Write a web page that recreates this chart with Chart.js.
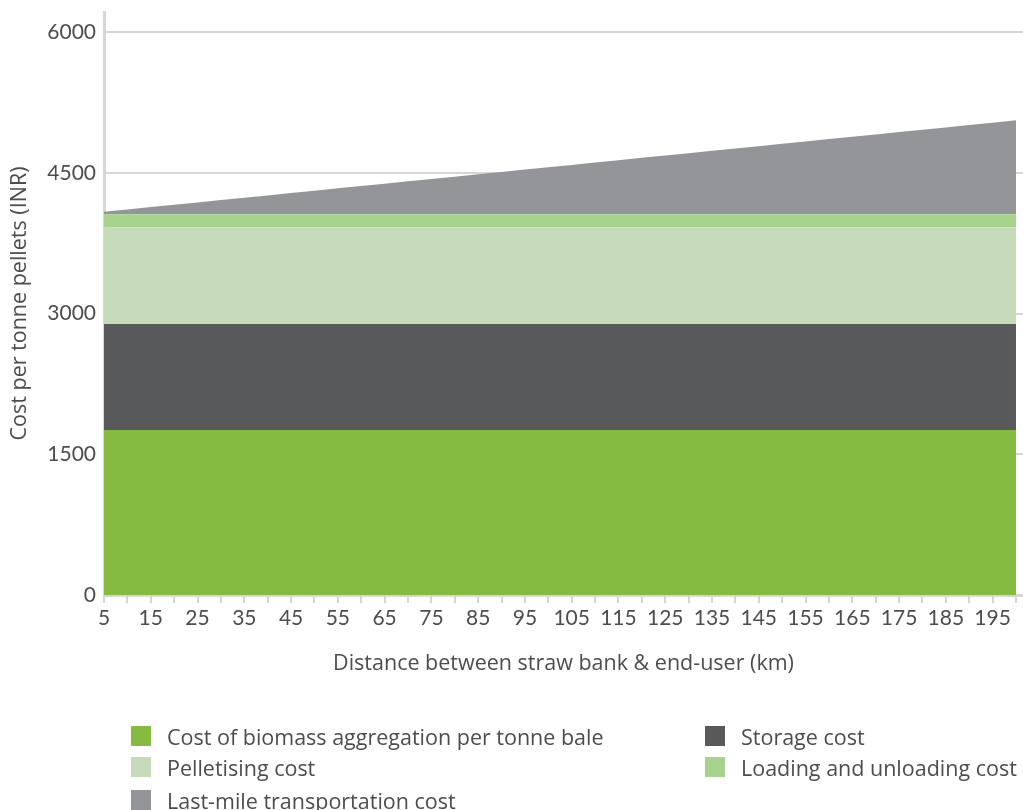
<!DOCTYPE html>
<html>
<head>
<meta charset="utf-8">
<script src="https://cdn.jsdelivr.net/npm/chart.js@4"></script>
<style>
  html, body { margin: 0; padding: 0; background: #ffffff; }
  body { width: 1023px; height: 810px; position: relative; overflow: hidden; font-family: "Open Sans", Lato, sans-serif; }
  #wrap { position: absolute; left: 0; top: 0; width: 1023px; height: 700px; }
  #legend { position: absolute; left: 0; top: 0; width: 1023px; height: 810px; pointer-events: none; }
  .item { position: absolute; display: flex; align-items: center; height: 26px; color: #4d4d4f; font-size: 21.5px; white-space: nowrap; }
  .box { width: 20px; height: 20px; margin-right: 16px; }
</style>
</head>
<body>
<div id="wrap"><canvas id="chart"></canvas></div>
<div id="legend"></div>
<script>
// Distance between straw bank and end-user (km)
const distances = [5, 10, 15, 20, 25, 30, 35, 40, 45, 50, 55, 60, 65, 70, 75, 80, 85, 90, 95, 100,
  105, 110, 115, 120, 125, 130, 135, 140, 145, 150, 155, 160, 165, 170, 175, 180, 185, 190, 195, 200];

// Cost components per tonne of pellets (INR)
const aggregationCost = [1760, 1760, 1760, 1760, 1760, 1760, 1760, 1760, 1760, 1760, 1760, 1760, 1760, 1760, 1760, 1760, 1760, 1760, 1760, 1760,
  1760, 1760, 1760, 1760, 1760, 1760, 1760, 1760, 1760, 1760, 1760, 1760, 1760, 1760, 1760, 1760, 1760, 1760, 1760, 1760];
const storageCost = [1130, 1130, 1130, 1130, 1130, 1130, 1130, 1130, 1130, 1130, 1130, 1130, 1130, 1130, 1130, 1130, 1130, 1130, 1130, 1130,
  1130, 1130, 1130, 1130, 1130, 1130, 1130, 1130, 1130, 1130, 1130, 1130, 1130, 1130, 1130, 1130, 1130, 1130, 1130, 1130];
const pelletisingCost = [1030, 1030, 1030, 1030, 1030, 1030, 1030, 1030, 1030, 1030, 1030, 1030, 1030, 1030, 1030, 1030, 1030, 1030, 1030, 1030,
  1030, 1030, 1030, 1030, 1030, 1030, 1030, 1030, 1030, 1030, 1030, 1030, 1030, 1030, 1030, 1030, 1030, 1030, 1030, 1030];
const loadingCost = [140, 140, 140, 140, 140, 140, 140, 140, 140, 140, 140, 140, 140, 140, 140, 140, 140, 140, 140, 140,
  140, 140, 140, 140, 140, 140, 140, 140, 140, 140, 140, 140, 140, 140, 140, 140, 140, 140, 140, 140];
const lastMileCost = [25, 50, 75, 100, 125, 150, 175, 200, 225, 250, 275, 300, 325, 350, 375, 400, 425, 450, 475, 500,
  525, 550, 575, 600, 625, 650, 675, 700, 725, 750, 775, 800, 825, 850, 875, 900, 925, 950, 975, 1000];

// Y-axis tick labels
const yTicks = [0, 1500, 3000, 4500, 6000];

const seriesNames = [
  'Cost of biomass aggregation per tonne bale',
  'Storage cost',
  'Pelletising cost',
  'Loading and unloading cost',
  'Last-mile transportation cost'
];
const seriesValues = [aggregationCost, storageCost, pelletisingCost, loadingCost, lastMileCost];
const seriesColors = ['#85bb40', '#58595b', '#c5dbba', '#a8d38f', '#939598'];

const textColor = '#4d4d4f';
const lineColor = '#d6d6d6';
const tickFont = 'Lato, "Open Sans", sans-serif';
const titleFont = '"Open Sans", Lato, sans-serif';

const datasets = seriesValues.map((vals, i) => ({
  label: seriesNames[i],
  data: vals.map((v, j) => ({ x: distances[j], y: v })),
  backgroundColor: seriesColors[i],
  borderColor: seriesColors[i],
  borderWidth: 0,
  pointRadius: 0,
  pointHoverRadius: 0,
  tension: 0,
  fill: i === 0 ? 'origin' : '-1'
}));

new Chart(document.getElementById('chart'), {
  type: 'line',
  data: { datasets },
  options: {
    responsive: true,
    maintainAspectRatio: false,
    devicePixelRatio: 1,
    animation: false,
    layout: { padding: { top: 12, right: 0, bottom: 0, left: 0 } },
    plugins: { legend: { display: false }, tooltip: { enabled: false } },
    scales: {
      x: {
        type: 'linear',
        min: 5,
        max: 201.5,
        afterBuildTicks: (axis) => { axis.ticks = distances.map(v => ({ value: v })); },
        afterFit: (axis) => { axis.height = 105; },
        grid: { drawOnChartArea: false, drawTicks: true, tickLength: 8, color: lineColor, lineWidth: 2 },
        border: { display: true, color: lineColor, width: 3 },
        ticks: {
          autoSkip: false,
          maxRotation: 0,
          padding: 3,
          color: textColor,
          font: { family: tickFont, size: 21 },
          callback: (v) => ((v - 5) % 10 === 0 ? String(v) : '')
        },
        title: {
          display: true,
          text: 'Distance between straw bank & end-user (km)',
          color: textColor,
          font: { family: titleFont, size: 21.5 },
          padding: { top: 0, bottom: 23 }
        }
      },
      y: {
        stacked: true,
        min: 0,
        max: 6215,
        afterBuildTicks: (axis) => { axis.ticks = yTicks.map(v => ({ value: v })); },
        afterFit: (axis) => { axis.width = 104; axis.paddingTop = 0; axis.paddingBottom = 0; },
        grid: { drawTicks: false, color: lineColor, lineWidth: 2 },
        border: { display: true, color: lineColor, width: 3 },
        ticks: {
          padding: 8,
          color: textColor,
          font: { family: tickFont, size: 21 },
          callback: (v) => String(v)
        },
        title: {
          display: true,
          text: 'Cost per tonne pellets (INR)',
          color: textColor,
          font: { family: titleFont, size: 21.5 },
          padding: { top: 7, bottom: 0 }
        }
      }
    }
  }
});

// Two-column legend under the chart
const legend = document.getElementById('legend');
const colLeft = [131, 705];
const rowCenter = [736, 767, 800];
seriesNames.forEach((name, i) => {
  const item = document.createElement('div');
  item.className = 'item';
  item.style.left = colLeft[i % 2] + 'px';
  item.style.top = (rowCenter[Math.floor(i / 2)] - 13) + 'px';
  const box = document.createElement('span');
  box.className = 'box';
  box.style.background = seriesColors[i];
  const label = document.createElement('span');
  label.textContent = name;
  item.appendChild(box);
  item.appendChild(label);
  legend.appendChild(item);
});
</script>
</body>
</html>
